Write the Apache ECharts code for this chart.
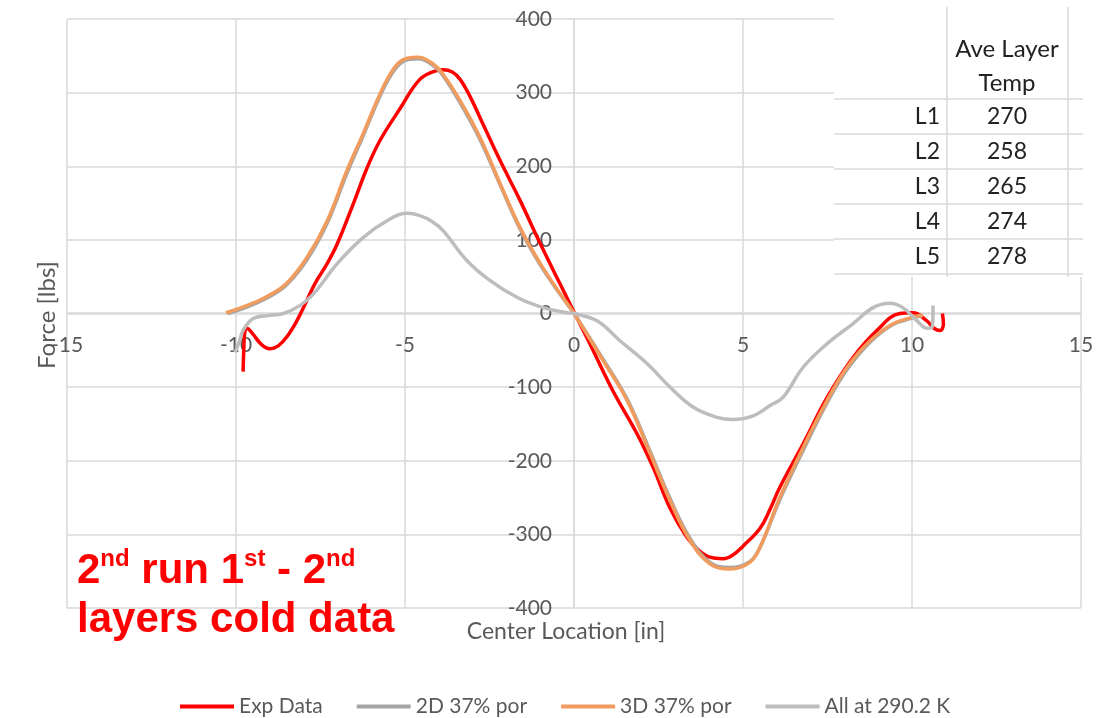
<!DOCTYPE html>
<html>
<head>
<meta charset="utf-8">
<script src="https://cdn.jsdelivr.net/npm/echarts@6/dist/echarts.min.js"></script>
<style>
  html, body { margin: 0; padding: 0; background: #fff; }
  #chart { width: 1108px; height: 718px; }
</style>
</head>
<body>
<div id="chart"></div>
<script>
// series data, [center location (in), force (lbs)]
var expData = [
  [-9.79, -79], [-9.77, -50], [-9.74, -25], [-9.68, -20], [-9.5, -28], [-9.25, -42],
  [-9.0, -48], [-8.75, -44], [-8.5, -32], [-8.2, -10], [-7.9, 18], [-7.66, 41],
  [-7.3, 68], [-7.0, 95], [-6.53, 149], [-6.12, 198], [-5.74, 235], [-5.15, 278],
  [-4.56, 318], [-4.06, 330], [-3.88, 331], [-3.6, 328], [-3.37, 318], [-3.1, 297],
  [-2.78, 266], [-2.19, 208], [-1.6, 154], [-1.0, 95], [-0.41, 40], [0, 2], [0.47, -41],
  [1.15, -105], [1.86, -163], [2.34, -209], [2.84, -264], [3.34, -304], [3.7, -322],
  [4.02, -331], [4.41, -333], [4.7, -328], [5.0, -316], [5.5, -292], [5.8, -266],
  [6.09, -236], [6.78, -177], [7.49, -114], [8.25, -60], [8.96, -23], [9.64, 0],
  [10.03, 1], [10.44, -10], [10.65, -20], [10.83, -23], [10.93, -14], [10.9, 0]
];
var data2D = [
  [-10.25, 0], [-9.9, 5], [-9.5, 12], [-9.0, 23], [-8.5, 39], [-7.9, 73],
  [-7.3, 123], [-6.72, 190], [-6.24, 241], [-5.65, 304], [-5.24, 335], [-4.9, 345],
  [-4.6, 346], [-4.3, 341], [-3.96, 328], [-3.37, 286], [-2.78, 236], [-2.19, 175],
  [-1.6, 115], [-1.0, 66], [-0.41, 26], [0, 0], [0.86, -62], [1.57, -116],
  [2.25, -187], [2.84, -251], [3.43, -305], [4.02, -338], [4.62, -345], [5.2, -337],
  [5.5, -318], [6.09, -253], [6.78, -186], [7.49, -121], [8.08, -76], [8.76, -39],
  [9.44, -15], [10.03, -6], [10.3, -3]
];
var data3D = [
  [-10.3, 1], [-9.9, 7], [-9.5, 14], [-9.0, 25], [-8.5, 41], [-7.9, 76],
  [-7.3, 126], [-6.72, 194], [-6.24, 244], [-5.65, 307], [-5.24, 338], [-4.9, 347],
  [-4.6, 348], [-4.3, 343], [-3.96, 330], [-3.37, 289], [-2.78, 239], [-2.19, 177],
  [-1.6, 117], [-1.0, 68], [-0.41, 27], [0, 0], [0.86, -64], [1.57, -118],
  [2.25, -190], [2.84, -254], [3.43, -308], [4.02, -340], [4.62, -347], [5.2, -338],
  [5.5, -318], [6.09, -250], [6.78, -182], [7.49, -118], [8.08, -73], [8.76, -37],
  [9.44, -14], [10.03, -5], [10.33, -2]
];
var dataAll = [
  [-10.03, -53], [-9.9, -38], [-9.79, -23], [-9.5, -7], [-9.08, -3], [-8.6, 0],
  [-8.1, 11], [-7.7, 27], [-7.0, 68], [-6.24, 103], [-5.53, 126], [-4.94, 136],
  [-4.56, 133], [-4.2, 125], [-3.88, 113], [-3.17, 72], [-2.49, 45], [-1.69, 22],
  [-0.92, 8], [-0.2, 1], [0, 0], [0.68, -10], [1.36, -37], [2.16, -68],
  [2.84, -100], [3.52, -127], [4.23, -141], [4.7, -144], [5.3, -139], [5.8, -125],
  [6.18, -114], [6.78, -73], [7.49, -41], [8.25, -14], [8.85, 8], [9.35, 14],
  [9.73, 8], [10.15, -10], [10.44, -20], [10.59, -19], [10.62, 0], [10.62, 11]
];

var seriesNames = ["Exp Data", "2D 37% por", "3D 37% por", "All at 290.2 K"];
var seriesColors = ["#ff0000", "#a5a5a5", "#f19c5f", "#bdbdbd"];

// side table
var tableRows = ["L1", "L2", "L3", "L4", "L5"];
var tableTemps = ["270", "258", "265", "274", "278"];

var gridColor = "#d9d9d9";
var labelColor = "#595959";
var font = "Lato";

function makeLine(name, data, color) {
  return {
    name: name,
    type: "line",
    data: data,
    smooth: 0.4,
    showSymbol: false,
    lineStyle: { color: color, width: 3.5 },
    itemStyle: { color: color },
    z: 3
  };
}

// table graphics
var tableEls = [];
tableEls.push({
  type: "rect", z: 10,
  shape: { x: 834, y: 0, width: 250, height: 277 },
  style: { fill: "#fff" }
});
[99, 134, 169, 204, 239, 274].forEach(function (y) {
  tableEls.push({
    type: "line", z: 11,
    shape: { x1: 834, y1: y, x2: 1083, y2: y },
    style: { stroke: gridColor, lineWidth: 1.5 }
  });
});
[947, 1068].forEach(function (x) {
  tableEls.push({
    type: "line", z: 11,
    shape: { x1: x, y1: 7, x2: x, y2: 277 },
    style: { stroke: gridColor, lineWidth: 1.5 }
  });
});
var cellFont = "23px " + font;
tableEls.push({
  type: "text", z: 12, x: 1007, y: 49,
  style: { text: "Ave Layer", font: "24px " + font, fill: "#222", align: "center", verticalAlign: "middle" }
});
tableEls.push({
  type: "text", z: 12, x: 1007, y: 83,
  style: { text: "Temp", font: "24px " + font, fill: "#222", align: "center", verticalAlign: "middle" }
});
tableRows.forEach(function (r, i) {
  var y = 117 + i * 35;
  tableEls.push({
    type: "text", z: 12, x: 940, y: y,
    style: { text: r, font: cellFont, fill: "#222", align: "right", verticalAlign: "middle" }
  });
  tableEls.push({
    type: "text", z: 12, x: 1007, y: y,
    style: { text: tableTemps[i], font: cellFont, fill: "#222", align: "center", verticalAlign: "middle" }
  });
});

var chart = echarts.init(document.getElementById("chart"));
chart.setOption({
  animation: false,
  backgroundColor: "#fff",
  grid: { left: 67, right: 27, top: 19, bottom: 110 },
  legend: {
    data: seriesNames,
    left: 175,
    top: 691,
    icon: "rect",
    itemWidth: 54,
    itemHeight: 4,
    itemGap: 34,
    textStyle: { color: labelColor, fontSize: 21, fontFamily: font }
  },
  // axes crossing at zero (moved in from the grid edge)
  xAxis: {
    type: "value",
    min: -15,
    max: 15,
    interval: 5,
    position: "bottom",
    offset: -295,
    axisLine: { onZero: false, lineStyle: { color: gridColor, width: 1.5 } },
    axisTick: { show: false },
    splitLine: { lineStyle: { color: gridColor, width: 1.5 } },
    axisLabel: { color: labelColor, fontSize: 21, fontFamily: font, margin: 22 }
  },
  yAxis: {
    type: "value",
    min: -400,
    max: 400,
    interval: 100,
    position: "left",
    offset: -507,
    axisLine: { onZero: false, lineStyle: { color: gridColor, width: 1.5 } },
    axisTick: { show: false },
    splitLine: { lineStyle: { color: gridColor, width: 1.5 } },
    axisLabel: { color: labelColor, fontSize: 21, fontFamily: font, margin: 22 }
  },
  graphic: tableEls.concat([
    {
      type: "text", x: 566, y: 632, z: 5,
      style: { text: "Center Location [in]", font: "23px " + font, fill: labelColor, align: "center", verticalAlign: "middle" }
    },
    {
      type: "text", x: 47, y: 315, rotation: Math.PI / 2, z: 5,
      style: { text: "Force [lbs]", font: "24px " + font, fill: labelColor, align: "center", verticalAlign: "middle" }
    },
    {
      type: "text", x: 77, y: 547, z: 20,
      style: {
        text: "{a|2}{s|nd}{a| run 1}{s|st}{a| - 2}{s|nd}\n{a|layers cold data}",
        fill: "#ff0000",
        rich: {
          a: { fontSize: 42, fontWeight: "bold", fontFamily: "Liberation Sans", color: "#ff0000", lineHeight: 49 },
          s: { fontSize: 24, fontWeight: "bold", fontFamily: "Liberation Sans", color: "#ff0000", lineHeight: 30, verticalAlign: "top" }
        }
      }
    }
  ]),
  series: [
    makeLine(seriesNames[0], expData, seriesColors[0]),
    makeLine(seriesNames[1], data2D, seriesColors[1]),
    makeLine(seriesNames[2], data3D, seriesColors[2]),
    makeLine(seriesNames[3], dataAll, seriesColors[3])
  ]
});
</script>
</body>
</html>
